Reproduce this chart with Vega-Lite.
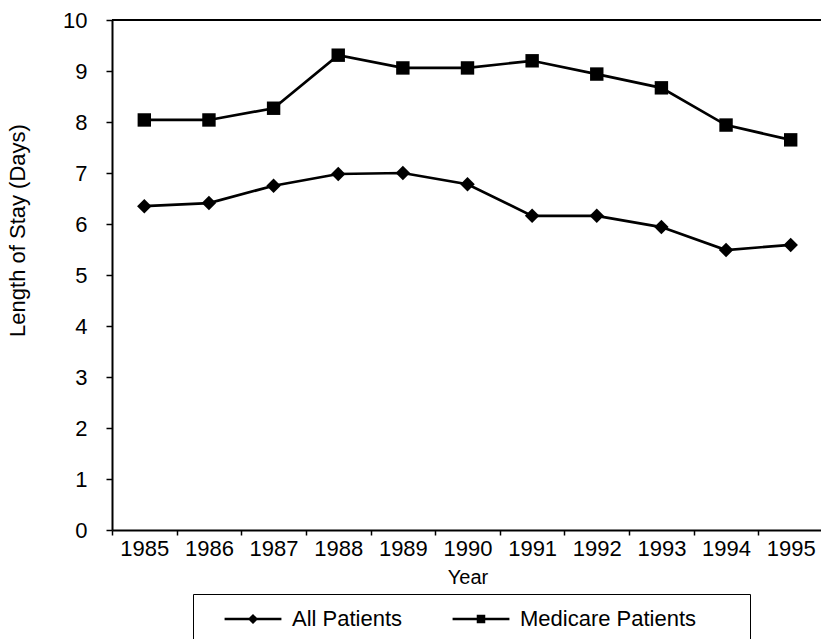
{
  "$schema": "https://vega.github.io/schema/vega-lite/v6.json",
  "width": 711,
  "height": 510,
  "autosize": "none",
  "padding": {"left": 112, "top": 20, "right": 0, "bottom": 109},
  "background": "white",
  "config": {
    "view": {"stroke": null},
    "font": "Liberation Sans",
    "axis": {"domainColor": "black", "tickColor": "black", "labelColor": "black", "titleColor": "black", "domainWidth": 2, "tickWidth": 1.5, "grid": false, "labelFont": "Liberation Sans", "titleFont": "Liberation Sans", "titleFontWeight": "normal"}
  },
  "data": {"values": [
    {"year": "1985", "series": "All Patients", "los": 6.35},
    {"year": "1986", "series": "All Patients", "los": 6.41},
    {"year": "1987", "series": "All Patients", "los": 6.75},
    {"year": "1988", "series": "All Patients", "los": 6.98},
    {"year": "1989", "series": "All Patients", "los": 7.0},
    {"year": "1990", "series": "All Patients", "los": 6.78},
    {"year": "1991", "series": "All Patients", "los": 6.16},
    {"year": "1992", "series": "All Patients", "los": 6.16},
    {"year": "1993", "series": "All Patients", "los": 5.94},
    {"year": "1994", "series": "All Patients", "los": 5.49},
    {"year": "1995", "series": "All Patients", "los": 5.59},
    {"year": "1985", "series": "Medicare Patients", "los": 8.04},
    {"year": "1986", "series": "Medicare Patients", "los": 8.04},
    {"year": "1987", "series": "Medicare Patients", "los": 8.27},
    {"year": "1988", "series": "Medicare Patients", "los": 9.31},
    {"year": "1989", "series": "Medicare Patients", "los": 9.06},
    {"year": "1990", "series": "Medicare Patients", "los": 9.06},
    {"year": "1991", "series": "Medicare Patients", "los": 9.2},
    {"year": "1992", "series": "Medicare Patients", "los": 8.94},
    {"year": "1993", "series": "Medicare Patients", "los": 8.67},
    {"year": "1994", "series": "Medicare Patients", "los": 7.94},
    {"year": "1995", "series": "Medicare Patients", "los": 7.65}
  ]},
  "encoding": {
    "x": {
      "field": "year", "type": "ordinal", "bandPosition": 0.5,
      "scale": {"type": "band", "paddingInner": 0, "paddingOuter": 0},
      "axis": {"title": "Year", "labelAngle": 0, "labelFontSize": 22, "titleFontSize": 20, "tickBand": "extent", "tickSize": 5, "labelPadding": 3, "titlePadding": 8}
    },
    "y": {
      "field": "los", "type": "quantitative",
      "scale": {"domain": [0, 10], "nice": false, "zero": true},
      "axis": {"title": "Length of Stay (Days)", "values": [0,1,2,3,4,5,6,7,8,9,10], "labelFontSize": 22, "titleFontSize": 22, "tickSize": 6, "labelPadding": 19, "titleX": -88, "titleY": 210, "titleAngle": -90, "titleAlign": "center", "titleBaseline": "alphabetic"}
    }
  },
  "layer": [
    {
      "mark": {"type": "rule", "color": "black", "strokeWidth": 2},
      "encoding": {"x": null, "y": {"datum": 10}}
    },
    {
      "mark": {"type": "line", "color": "black", "strokeWidth": 2.7},
      "encoding": {"detail": {"field": "series"}}
    },
    {
      "transform": [{"filter": "datum.series === 'All Patients'"}],
      "mark": {"type": "point", "filled": true, "color": "black", "opacity": 1, "shape": "diamond", "size": 210}
    },
    {
      "transform": [{"filter": "datum.series === 'Medicare Patients'"}],
      "mark": {"type": "point", "filled": true, "color": "black", "opacity": 1, "shape": "square", "size": 180}
    },
    {
      "mark": {"type": "point", "filled": true, "color": "black", "opacity": 0},
      "encoding": {
        "shape": {
          "field": "series", "type": "nominal",
          "scale": {"domain": ["All Patients", "Medicare Patients"], "range": ["M-4,-0.18H4V0.18H-4ZM0,-0.72L0.72,0L0,0.72L-0.72,0Z", "M-4,-0.18H4V0.18H-4ZM-0.6,-0.6H0.6V0.6H-0.6Z"]},
          "legend": {
            "title": "\u00a0",
            "titleOrient": "right",
            "titlePadding": 40,
            "titleFontSize": 10,
            "orient": "none",
            "legendX": 81,
            "legendY": 574,
            "direction": "horizontal",
            "strokeColor": "black",
            "fillColor": "white",
            "padding": 14,
            "labelFontSize": 22,
            "labelColor": "black",
            "labelFont": "Liberation Sans",
            "labelLimit": 400,
            "symbolSize": 202,
            "symbolOpacity": 1,
            "symbolFillColor": "black",
            "symbolOffset": 35,
            "labelOffset": 28,
            "columnPadding": 32,
            "encode": {
              "legend": {"update": {"strokeWidth": {"value": 1.5}}}
            }
          }
        },
        "size": {"value": 202}
      }
    }
  ]
}
